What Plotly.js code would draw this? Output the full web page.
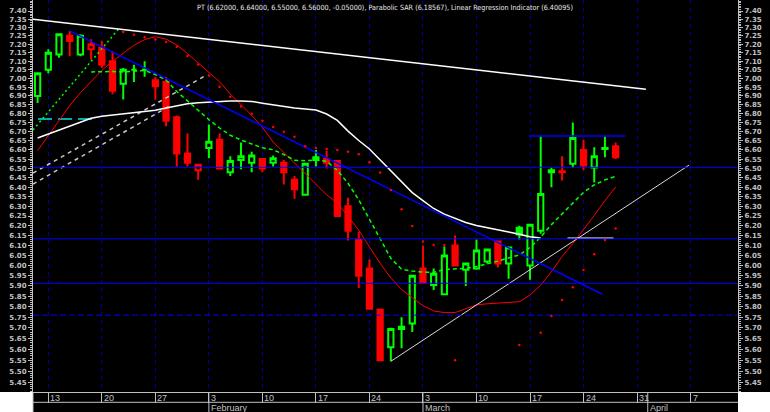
<!DOCTYPE html>
<html><head><meta charset="utf-8">
<script src="https://cdn.plot.ly/plotly-3.0.1.min.js"></script>
<style>html,body{margin:0;padding:0;background:#fff;}#chart{width:770px;height:412px;}</style>
</head><body><div id="chart"></div>
<script>
// ---- data (trading-day index 0 = Fri 10 Jan 2003) ----
const symbol = 'PT';
const open  = [6.90,7.05,7.14,7.25,7.14,7.17,7.18,7.10,6.97,7.05,7.05,6.99,6.98,6.78,6.58,6.49,6.61,6.655,6.48,6.545,6.53,6.55,6.53,6.53,6.44,6.36,6.56,6.55,6.54,6.30,6.13,5.985,5.785,5.61,5.695,5.72,5.985,5.905,5.86,6.10,5.98,5.985,6.02,6.12,6.01,6.19,6.00,6.175,6.48,6.485,6.525,6.60,6.505,6.605,6.62];
const high  = [7.03,7.17,7.26,7.28,7.26,7.23,7.22,7.16,7.06,7.08,7.10,7.01,7.01,6.79,6.69,6.52,6.74,6.69,6.565,6.64,6.59,6.55,6.57,6.545,6.46,6.525,6.60,6.595,6.545,6.345,6.17,6.03,5.785,5.70,5.75,5.95,6.10,5.985,6.095,6.15,6.015,6.13,6.08,6.12,6.09,6.20,6.205,6.675,6.505,6.565,6.75,6.655,6.615,6.675,6.64];
const low   = [6.86,7.03,7.12,7.13,7.13,7.11,7.06,6.91,6.88,6.98,7.01,6.88,6.73,6.51,6.51,6.44,6.555,6.50,6.46,6.495,6.48,6.48,6.51,6.415,6.34,6.355,6.51,6.50,6.25,6.125,5.89,5.79,5.55,5.545,5.605,5.68,5.915,5.88,5.86,6.00,5.90,5.98,6.01,5.99,5.935,6.13,5.93,6.16,6.40,6.435,6.505,6.49,6.425,6.56,6.55];
const close = [7.03,7.15,7.26,7.22,7.25,7.20,7.08,6.93,7.05,7.05,7.05,6.955,6.76,6.58,6.53,6.52,6.645,6.50,6.54,6.565,6.57,6.50,6.555,6.48,6.39,6.525,6.545,6.53,6.25,6.175,5.95,5.79,5.55,5.695,5.705,5.95,5.915,5.96,6.05,6.00,6.01,6.075,6.08,6.01,6.09,6.155,6.205,6.365,6.49,6.48,6.665,6.515,6.565,6.61,6.56];

const linReg = [6.596,6.678,6.766,6.845,6.918,6.985,7.047,7.100,7.147,7.194,
  7.228,7.245,7.231,7.196,7.145,7.090,7.034,6.981,6.911,6.851,
  6.791,6.724,6.643,6.586,6.528,6.470,6.413,6.360,6.318,6.250,
  6.178,6.093,6.011,5.939,5.883,5.844,5.805,5.780,5.772,5.772,
  5.790,5.809,5.814,5.817,5.819,5.824,5.856,5.904,5.970,6.045,
  6.110,6.179,6.253,6.330,6.40095];
const whiteAvg = [6.665,6.687,6.709,6.732,6.756,6.774,6.786,6.792,6.799,6.804,
  6.810,6.819,6.832,6.845,6.856,6.862,6.866,6.869,6.871,6.871,
  6.869,6.859,6.849,6.838,6.832,6.826,6.820,6.798,6.762,6.703,
  6.651,6.605,6.545,6.484,6.425,6.372,6.330,6.289,6.260,6.237,
  6.217,6.201,6.191,6.180,6.168,6.157,6.144,6.138,null,null,
  null,null,null,null,null];
const greenAvg = [null,null,null,null,null,7.038,7.040,7.040,7.037,7.041,
  7.047,7.023,6.991,6.925,6.871,6.819,6.767,6.720,6.680,6.654,
  6.631,6.611,6.601,6.575,6.544,6.541,6.545,6.538,6.490,6.421,
  6.334,6.231,6.128,6.036,5.982,5.973,5.968,5.966,5.981,5.982,
  5.986,5.995,6.007,6.022,6.038,6.053,6.089,6.143,6.206,6.261,
  6.317,6.373,6.412,6.439,6.457];
const sar = [null,null,null,null,null,null,null,null,7.273,7.257,
  7.242,7.228,7.214,7.185,7.131,7.081,7.017,6.953,6.895,6.840,
  6.800,6.760,6.725,6.700,6.672,6.620,6.610,6.605,6.600,6.590,
  6.576,6.533,6.478,6.385,6.285,6.199,6.120,6.103,6.103,5.550,
  null,null,null,null,null,5.620,null,5.677,5.756,5.832,
  5.894,5.978,6.056,6.128,6.18567];

// trend lines / levels (x = trading-day index, y = price)
const whiteTrendX = [-0.43, 56.82], whiteTrendY = [7.350, 6.938];
const grayTrendX  = [33, 60.86],   grayTrendY  = [5.545, 6.518];
const blueTrendX  = [3, 52.77],    blueTrendY  = [7.28, 5.86];
const chanAX = [-0.43, 15.62], chanAY = [6.475, 7.014];
const chanBX = [-0.43, 12.35], chanBY = [6.417, 6.843];
const greenTrendX = [-0.43, 7.69], greenTrendY = [6.709, 7.301];
const cyanX = [0.04, 5.08], cyanY = [6.77, 6.77];
const blueTopX = [45.9, 54.9], blueTopY = [6.676, 6.676];
const whiteFlatX = [49.5, 53.8], whiteFlatY = [6.136, 6.136];
const hLevels = [6.506, 6.134, 5.913];
const hDashLevel = 5.760;

const mondayIdx = [1,6,11,16,21,26,31,36,41,46,51,56,61];
const mondayLabels = ['13','20','27','3','10','17','24','3','10','17','24','31','7'];
const monthIdx = [16,36,57];
const monthLabels = ['February','March','April'];
const priceTicks = [];
for (let v = 545; v <= 740; v += 5) priceTicks.push(v / 100);
const minorTicks = [];
for (let v = 541; v <= 746; v += 1) minorTicks.push(v / 100);

// ---- build ----
const idx = open.map((_, i) => i);
const n = close.length - 1;
const titleText = symbol + ' (' + [open[n], high[n], low[n], close[n], close[n]-close[n-1]].map(v => v.toFixed(5)).join(', ') +
  '), Parabolic SAR (' + sar[n].toFixed(5) + '), Linear Regression Indicator (' + linReg[n].toFixed(5) + ')';

const upDay = close.map((c, i) => i === 0 || c >= close[i-1]);
function group(flag) {
  const g = {x:[], o:[], h:[], l:[], c:[]};
  idx.forEach(i => { if (upDay[i] === flag) { g.x.push(i); g.o.push(open[i]); g.h.push(high[i]); g.l.push(low[i]); g.c.push(close[i]); } });
  return g;
}
const gUp = group(true), gDn = group(false);
const X0 = -0.43, X1 = 65.43;

function candle(g, col) {
  return {type:'candlestick', x:g.x, open:g.o, high:g.h, low:g.l, close:g.c,
    increasing:{line:{color:col, width:2}, fillcolor:'#000000'},
    decreasing:{line:{color:col, width:2}, fillcolor:col},
    whiskerwidth:0, hoverinfo:'skip', showlegend:false};
}
function line(x, y, color, width, dash) {
  return {type:'scatter', mode:'lines', x:x, y:y, line:{color:color, width:width, dash:dash||'solid'},
    hoverinfo:'skip', showlegend:false, connectgaps:false};
}

const traces = [
  candle(gUp, '#00ff00'),
  candle(gDn, '#ff0000'),
  line(chanAX, chanAY, '#c8c8c8', 1.5, '4px,4px'),
  line(chanBX, chanBY, '#c8c8c8', 1.5, '4px,4px'),
  line(greenTrendX, greenTrendY, '#00ff00', 1.5, '2px,3px'),
  line(cyanX, cyanY, '#00e8e8', 1.5, '14px,6px'),
  line(idx, linReg, '#ff0000', 1),
  line(idx, whiteAvg, '#ffffff', 1.5),
  line(idx, greenAvg, '#00ff00', 1.5, '4px,3px'),
  line(whiteTrendX, whiteTrendY, '#ffffff', 1.5),
  line(grayTrendX, grayTrendY, '#d8d8d8', 1),
  line(blueTrendX, blueTrendY, '#0000ff', 1.5),
  line(blueTopX, blueTopY, '#0000ff', 1.5),
  line(whiteFlatX, whiteFlatY, '#ffffff', 1.5),
];
hLevels.forEach(v => traces.push(line([X0, X1], [v, v], '#0000ff', 1)));
traces.push(line([X0, X1], [hDashLevel, hDashLevel], '#0000ff', 1, '6px,3px'));
traces.push({type:'scatter', mode:'markers', x:idx, y:sar, marker:{color:'#ff0000', size:2.5}, hoverinfo:'skip', showlegend:false});
traces.push({type:'scatter', mode:'markers', x:[0], y:[6.5], yaxis:'y2', marker:{opacity:0}, hoverinfo:'skip', showlegend:false});

const axisFont = {family:'DejaVu Sans, Liberation Sans, sans-serif', size:7, color:'#c0c0c0', weight:'bold'};
const yRange = [0.73292, 0.87317];
function yAxis(side) {
  return {type:'log', range:yRange, autorange:false, side:side,
    tickmode:'array', tickvals:priceTicks, ticktext:priceTicks.map(v => v.toFixed(2)),
    ticks:'outside', ticklen:4, tickwidth:1, tickcolor:'#c0c0c0',
    minor:{tickmode:'array', tickvals:minorTicks, ticks:'outside', ticklen:2, tickwidth:1, tickcolor:'#c0c0c0', showgrid:false},
    showgrid:false, zeroline:false, showline:true, linecolor:'#c0c0c0', linewidth:1,
    tickfont:axisFont, fixedrange:true};
}
const yA2 = yAxis('right'); yA2.overlaying = 'y';

const bh = 20/392;
const shapes = [
  {type:'rect', xref:'paper', yref:'paper', x0:-33/705, x1:0, y0:-bh, y1:0, fillcolor:'#ffffff', line:{width:0}},
  {type:'rect', xref:'paper', yref:'paper', x0:1, x1:1+32/705, y0:-bh, y1:0, fillcolor:'#ffffff', line:{width:0}},
  {type:'line', xref:'paper', yref:'paper', x0:0, x1:1, y0:-10.3/392, y1:-10.3/392, line:{color:'#c0c0c0', width:1}},
  {type:'line', xref:'paper', yref:'paper', x0:0, x1:0, y0:-bh, y1:0, line:{color:'#c0c0c0', width:1}},
];
monthIdx.forEach(m => shapes.push({type:'line', xref:'x', yref:'paper', x0:m, x1:m, y0:-bh, y1:0, line:{color:'#c0c0c0', width:1}}));

const annFont = {family:'Liberation Sans, Arial, sans-serif', size:9, color:'#c0c0c0'};
const annotations = [];
mondayIdx.forEach((m, k) => annotations.push({x:m, xref:'x', y:0, yref:'paper', yshift:-5.5, xanchor:'left', yanchor:'middle',
  text:mondayLabels[k], showarrow:false, font:annFont}));
monthIdx.forEach((m, k) => annotations.push({x:m, xref:'x', y:0, yref:'paper', yshift:-15.5, xanchor:'left', yanchor:'middle',
  text:monthLabels[k], showarrow:false, font:annFont}));

const layout = {
  width:770, height:412, margin:{l:33, r:32, t:0, b:20, pad:0},
  paper_bgcolor:'#000000', plot_bgcolor:'#000000', showlegend:false, hovermode:false,
  title:{text:titleText, x:0.5, xref:'container', xanchor:'center', y:1-7/412, yref:'container', yanchor:'middle',
    font:{family:'Liberation Sans Narrow, DejaVu Sans Condensed, Liberation Sans, sans-serif', size:7.2, color:'#e8e8e8'}},
  xaxis:{type:'linear', range:[X0, X1], autorange:false, rangeslider:{visible:false},
    tickmode:'array', tickvals:mondayIdx, showticklabels:false, ticks:'outside', ticklen:10, tickwidth:1, tickcolor:'#c0c0c0',
    showgrid:true, gridcolor:'#000098', gridwidth:1, griddash:'4px,4px', zeroline:false,
    showline:true, linecolor:'#c0c0c0', linewidth:1, fixedrange:true},
  yaxis:yAxis('left'),
  yaxis2:yA2,
  shapes:shapes, annotations:annotations
};
Plotly.newPlot('chart', traces, layout, {staticPlot:true, displayModeBar:false});
</script></body></html>
